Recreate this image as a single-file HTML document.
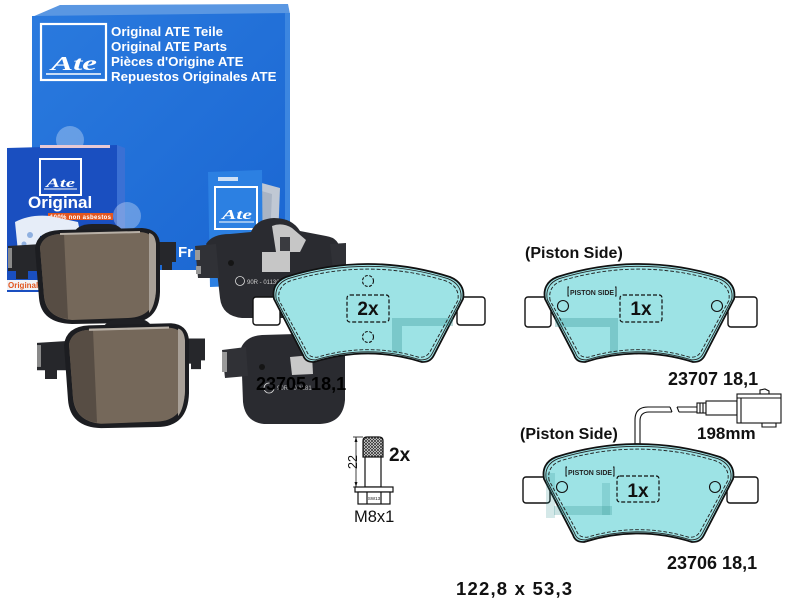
<!DOCTYPE html>
<html><head><meta charset="utf-8"><style>
html,body{margin:0;padding:0;background:#fff;}
svg{display:block;}
text{font-family:"Liberation Sans",Arial,sans-serif;}
</style></head><body>
<svg width="810" height="610" viewBox="0 0 810 610" xmlns="http://www.w3.org/2000/svg" xmlns:xlink="http://www.w3.org/1999/xlink">
<defs>
<linearGradient id="bg1" x1="0" y1="0" x2="1" y2="1">
<stop offset="0" stop-color="#2a7ade"/><stop offset="1" stop-color="#1a66d2"/>
</linearGradient>
<pattern id="kn" width="3" height="3" patternUnits="userSpaceOnUse"><rect width="3" height="3" fill="#fff"/><path d="M0,0 L3,3 M3,0 L0,3" stroke="#333" stroke-width="0.8"/></pattern>
<path id="pad" d="M2,36 C0,26 4,18 14,14 Q96,-12 178,14 C188,18 193,26 191,36 L162,92 C159,98 155,99 150,99 Q96,82 42,99 C37,99 33,98 31,92 Z"/>
<g id="pp">
 <path d="M8,246 L42,244 L42,271 L28,271 L28,279 L16,279 L16,271 L8,271 Z" fill="#26272b"/>
 <rect x="8" y="248" width="4" height="20" fill="#8a8a8a"/>
 <path d="M150,242 L176,242 L176,262 L172,262 L172,270 L162,270 L162,265 L150,265 Z" fill="#26272b"/>
 <path d="M72,236 Q76,224 92,224 L108,224 Q121,224 124,234 Z" fill="#1f2024"/>
 <path d="M35,248 Q37,231 60,230 L142,228 Q159,229 160,244 L160,292 Q159,323 128,323 L72,324 Q41,323 39,298 Z" fill="#1c1d21"/>
 <path d="M40,247 Q43,235 60,234 L140,232 Q154,233 156,244 L156,290 Q155,317 128,318 L72,320 Q46,318 44,296 Z" fill="#75685a"/>
 <path d="M40,247 Q43,235 60,234 L64,234 L68,319 Q47,317 44,296 Z" fill="#574d44"/>
 <path d="M149,233 Q155,234 156,244 L156,290 Q155,306 149,313 Z" fill="#a8a097"/>
 <path d="M60,234 L140,232" stroke="#b8b0a6" stroke-width="2" fill="none"/>
</g>
</defs>
<rect width="810" height="610" fill="#fff"/>

<!-- big box -->
<polygon points="60,5 288,4 290,14 32,17" fill="#5a97e2"/>
<polygon points="32,16 290,13 290,270 32,270" fill="url(#bg1)"/>
<polygon points="285,13 290,13 290,268 285,268" fill="#3c86e0"/>
<rect x="41" y="24" width="65" height="56" fill="none" stroke="#fff" stroke-width="2.2"/>
<text x="51" y="70" font-style="italic" font-weight="bold" font-size="20" fill="#fff" textLength="46" lengthAdjust="spacingAndGlyphs" style="font-family:'Liberation Serif',serif">Ate</text>
<line x1="46" y1="74" x2="101" y2="74" stroke="#fff" stroke-width="1.6"/>
<g fill="#fff" font-weight="bold" font-size="13.3">
<text x="111" y="36">Original ATE Teile</text>
<text x="111" y="51">Original ATE Parts</text>
<text x="111" y="66">Pièces d'Origine ATE</text>
<text x="111" y="81">Repuestos Originales ATE</text>
</g>
<circle cx="70" cy="140" r="14" fill="#fff" opacity="0.3"/>

<!-- small box -->
<polygon points="7,148 117,145 117,292 7,292" fill="#1a4fc0"/>
<polygon points="117,145 125,148 125,290 117,292" fill="#3a70d4"/>
<rect x="40" y="145" width="70" height="3" fill="#e7c9d4"/>
<rect x="40" y="159" width="41" height="36" fill="none" stroke="#fff" stroke-width="2"/>
<text x="46" y="187" font-style="italic" font-weight="bold" font-size="13" fill="#fff" style="font-family:'Liberation Serif',serif" textLength="29" lengthAdjust="spacingAndGlyphs">Ate</text>
<line x1="44" y1="189" x2="77" y2="189" stroke="#fff" stroke-width="1"/>
<text x="28" y="208" font-weight="bold" font-size="17" fill="#fff">Original</text>
<rect x="48" y="213" width="65" height="7" fill="#e2561f"/>
<text x="50" y="219" font-weight="bold" font-size="6" fill="#fff" textLength="61">100% non asbestos</text>
<path d="M15,222 Q30,214 50,216 L78,222 L80,232 L40,236 L40,256 L18,252 Z" fill="#e6edf8"/>
<circle cx="30" cy="235" r="3" fill="#8fb0e0"/><circle cx="24" cy="244" r="2.5" fill="#8fb0e0"/>
<rect x="7" y="280" width="33" height="10" fill="#f1f3f7"/>
<text x="8" y="288" font-weight="bold" font-size="8" fill="#e2561f">Original O</text>
<circle cx="127" cy="216" r="14" fill="#fff" opacity="0.3"/>

<!-- blue card & leaflets -->
<polygon points="258,182 280,188 278,240 258,236" fill="#c0c8d4"/>
<polygon points="258,190 272,194 270,240 258,238" fill="#a9b4c4"/>
<polygon points="208,172 262,170 263,285 210,287" fill="#2c80e2"/>
<rect x="218" y="177" width="20" height="4" fill="#cfe0f5"/>
<rect x="215" y="187" width="42" height="42" fill="none" stroke="#fff" stroke-width="2"/>
<text x="222" y="219" font-style="italic" font-weight="bold" font-size="14" fill="#fff" style="font-family:'Liberation Serif',serif" textLength="30" lengthAdjust="spacingAndGlyphs">Ate</text>
<line x1="219" y1="222" x2="254" y2="222" stroke="#fff" stroke-width="1"/>
<text x="178" y="257" font-weight="bold" font-size="15" fill="#fff">Fr</text>

<!-- photo pads -->
<use xlink:href="#pp" href="#pp"/>
<use xlink:href="#pp" href="#pp" transform="translate(29,74) scale(1,1.093)"/>

<!-- pad3 -->
<path d="M206,244 Q212,234 230,234 L251,232 Q256,219 274,218 Q292,218 300,231 L326,236 Q340,238 340,252 L338,292 Q336,317 310,318 L242,318 Q222,316 220,298 L216,262 Z" fill="#2a2b30"/>
<path d="M195,246 L216,244 L219,278 L198,278 Z" fill="#303136"/>
<rect x="195" y="250" width="5" height="10" fill="#999"/><rect x="196" y="266" width="5" height="8" fill="#999"/>
<path d="M330,244 L346,243 L346,270 L333,270 Z" fill="#303136"/>
<path d="M272,226 Q282,222 292,228 L306,240 L300,252 L290,252 L290,272 L262,272 L262,252 L276,252 Z" fill="#c6c6c6"/>
<rect x="280" y="237" width="10" height="14" fill="#3a3b40"/>
<circle cx="231" cy="263" r="3" fill="#151515"/>
<circle cx="240" cy="281" r="4.5" fill="none" stroke="#ddd" stroke-width="0.8"/>
<text x="247" y="284" font-size="6" fill="#ccc">90R - 011306</text>

<!-- pad4 -->
<path d="M241,348 Q246,336 262,335 L330,333 Q345,335 345,350 L345,400 Q343,423 320,424 L264,424 Q245,422 243,402 Z" fill="#2a2b30"/>
<path d="M222,350 L246,347 L248,376 L225,378 Z" fill="#303136"/>
<rect x="222" y="352" width="5" height="20" fill="#9a9a9a"/>
<path d="M290,357 L312,355 L313,374 L292,375 Z" fill="#c8c8c8"/>
<circle cx="262" cy="367" r="3" fill="#151515"/>
<circle cx="269" cy="388" r="5" fill="none" stroke="#ddd" stroke-width="0.8"/>
<text x="277" y="390" font-size="6" fill="#bbb">90R - 0 1281</text>

<!-- diagram pad 2x -->
<g transform="translate(272,263)">
 <rect x="-19" y="34" width="27" height="28" rx="3" fill="#fff" stroke="#111" stroke-width="1.4"/>
 <rect x="185" y="34" width="28" height="28" rx="3" fill="#fff" stroke="#111" stroke-width="1.4"/>
 <use xlink:href="#pad" href="#pad" fill="#9de3e5" stroke="#111" stroke-width="1.8"/>
 <rect x="120" y="55" width="61" height="8" fill="#2a8a8c" opacity="0.3"/>
 <rect x="120" y="63" width="10" height="27" fill="#2a8a8c" opacity="0.3"/>
 <use xlink:href="#pad" href="#pad" fill="none" stroke="#222" stroke-width="0.9" transform="translate(96,52) scale(0.975,0.955) translate(-96,-52)"/>
 <use xlink:href="#pad" href="#pad" fill="none" stroke="#222" stroke-width="1" stroke-dasharray="4 2" transform="translate(96,52) scale(0.945,0.9) translate(-96,-52)"/>
</g>
<circle cx="368" cy="281" r="5.5" fill="none" stroke="#111" stroke-width="1.1" stroke-dasharray="3 1.5"/>
<circle cx="368" cy="337" r="5.5" fill="none" stroke="#111" stroke-width="1.1" stroke-dasharray="3 1.5"/>
<rect x="347" y="295" width="42" height="27" rx="3" fill="none" stroke="#111" stroke-width="1.2" stroke-dasharray="4 2"/>
<text x="368" y="315" text-anchor="middle" font-weight="bold" font-size="19" fill="#111">2x</text>
<text x="256" y="390" font-weight="bold" font-size="18" fill="#000">23705 18,1</text>

<!-- pad 23707 -->
<text x="525" y="258" font-weight="bold" font-size="16" fill="#111">(Piston Side)</text>
<g transform="translate(543,263)">
 <rect x="-18" y="34" width="26" height="30" rx="3" fill="#fff" stroke="#111" stroke-width="1.4"/>
 <rect x="185" y="34" width="29" height="30" rx="3" fill="#fff" stroke="#111" stroke-width="1.4"/>
 <use xlink:href="#pad" href="#pad" fill="#9de3e5" stroke="#111" stroke-width="1.8"/>
 <rect x="12" y="55" width="63" height="9" fill="#2a8a8c" opacity="0.3"/>
 <rect x="67" y="64" width="8" height="26" fill="#2a8a8c" opacity="0.3"/>
 <use xlink:href="#pad" href="#pad" fill="none" stroke="#222" stroke-width="0.9" transform="translate(96,52) scale(0.975,0.955) translate(-96,-52)"/>
 <use xlink:href="#pad" href="#pad" fill="none" stroke="#222" stroke-width="1" stroke-dasharray="4 2" transform="translate(96,52) scale(0.945,0.9) translate(-96,-52)"/>
</g>
<path d="M569,287 L568,287 L568,296 L569,296 M615,287 L616,287 L616,296 L615,296" fill="none" stroke="#111" stroke-width="1"/>
<text x="570" y="295" font-weight="bold" font-size="7.5" fill="#222" textLength="44" lengthAdjust="spacingAndGlyphs">PISTON SIDE</text>
<circle cx="563" cy="306" r="5.5" fill="none" stroke="#111" stroke-width="1.1"/>
<circle cx="717" cy="306" r="5.5" fill="none" stroke="#111" stroke-width="1.1"/>
<rect x="620" y="295" width="42" height="27" rx="3" fill="none" stroke="#111" stroke-width="1.2" stroke-dasharray="4 2"/>
<text x="641" y="315" text-anchor="middle" font-weight="bold" font-size="19" fill="#111">1x</text>
<text x="668" y="385" font-weight="bold" font-size="18" fill="#111">23707 18,1</text>

<!-- wire -->
<g fill="none" stroke="#111" stroke-width="1.1">
<path d="M635,445 L635,420 Q635,407 648,407 L670,407"/>
<path d="M640,445 L640,421 Q640,412 649,412 L672,412"/>
<path d="M670,407 L672,412"/>
<path d="M677,407 L697,407 M679,412 L697,412 M677,407 L679,412"/>
<rect x="697" y="403" width="9" height="10" fill="#fff"/>
<line x1="700" y1="403" x2="700" y2="413"/><line x1="703" y1="403" x2="703" y2="413"/>
<rect x="706" y="401" width="31" height="14" fill="#fff"/>
<rect x="737" y="394" width="44" height="29" fill="#fff"/>
<line x1="737" y1="398" x2="781" y2="398"/>
<line x1="741" y1="398" x2="741" y2="423"/>
<path d="M760,394 L760,390 L765,389 L769,391 L769,394"/>
<path d="M762,423 L762,427 L776,427 L776,423"/>
</g>
<text x="697" y="439" font-weight="bold" font-size="17" fill="#111">198mm</text>

<!-- pad 23706 -->
<text x="520" y="439" font-weight="bold" font-size="16" fill="#111">(Piston Side)</text>
<g transform="translate(542,443)">
 <rect x="-19" y="34" width="27" height="26" rx="3" fill="#fff" stroke="#111" stroke-width="1.4"/>
 <rect x="185" y="34" width="31" height="26" rx="3" fill="#fff" stroke="#111" stroke-width="1.4"/>
 <use xlink:href="#pad" href="#pad" fill="#9de3e5" stroke="#111" stroke-width="1.8"/>
 <rect x="12" y="63" width="58" height="9" fill="#2a8a8c" opacity="0.25"/>
 <rect x="4" y="30" width="9" height="45" fill="#2a8a8c" opacity="0.2"/>
 <rect x="60" y="40" width="8" height="32" fill="#2a8a8c" opacity="0.2"/>
 <use xlink:href="#pad" href="#pad" fill="none" stroke="#222" stroke-width="0.9" transform="translate(96,52) scale(0.975,0.955) translate(-96,-52)"/>
 <use xlink:href="#pad" href="#pad" fill="none" stroke="#222" stroke-width="1" stroke-dasharray="4 2" transform="translate(96,52) scale(0.945,0.9) translate(-96,-52)"/>
</g>
<path d="M567,467 L566,467 L566,476 L567,476 M613,467 L614,467 L614,476 L613,476" fill="none" stroke="#111" stroke-width="1"/>
<text x="568" y="475" font-weight="bold" font-size="7.5" fill="#222" textLength="44" lengthAdjust="spacingAndGlyphs">PISTON SIDE</text>
<circle cx="562" cy="487" r="5.5" fill="none" stroke="#111" stroke-width="1.1"/>
<circle cx="715" cy="487" r="5.5" fill="none" stroke="#111" stroke-width="1.1"/>
<rect x="617" y="476" width="42" height="26" rx="3" fill="none" stroke="#111" stroke-width="1.2" stroke-dasharray="4 2"/>
<text x="638" y="497" text-anchor="middle" font-weight="bold" font-size="19" fill="#111">1x</text>
<text x="667" y="569" font-weight="bold" font-size="18" fill="#111">23706 18,1</text>

<!-- bolt -->
<g stroke="#111" stroke-width="1.2" fill="#fff">
<path d="M363,457 L363,441 Q363,437 367,437 L379,437 Q383,437 383,441 L383,457 Z" fill="url(#kn)"/>
<rect x="365" y="457" width="16" height="30"/>
<rect x="355" y="487" width="38" height="5"/>
<rect x="358" y="492" width="32" height="12"/>
<line x1="367" y1="492" x2="367" y2="504"/>
<line x1="381" y1="492" x2="381" y2="504"/>
</g>
<text x="374" y="500" font-size="4.5" text-anchor="middle" fill="#111">SW13</text>
<g stroke="#111" stroke-width="0.8">
<line x1="356" y1="437" x2="356" y2="487"/>
<line x1="353" y1="437" x2="363" y2="437"/>
<line x1="353" y1="487" x2="358" y2="487"/>
</g>
<polygon points="356,437 354.5,442 357.5,442" fill="#111"/>
<polygon points="356,487 354.5,482 357.5,482" fill="#111"/>
<text transform="translate(357,462) rotate(-90)" text-anchor="middle" font-size="12.5" fill="#111">22</text>
<text x="389" y="461" font-weight="bold" font-size="19" fill="#111">2x</text>
<text x="354" y="522" font-size="16.5" fill="#111">M8x1</text>

<text x="456" y="595" font-weight="bold" font-size="18.5" letter-spacing="1.2" fill="#111">122,8 x 53,3</text>
</svg>
</body></html>
